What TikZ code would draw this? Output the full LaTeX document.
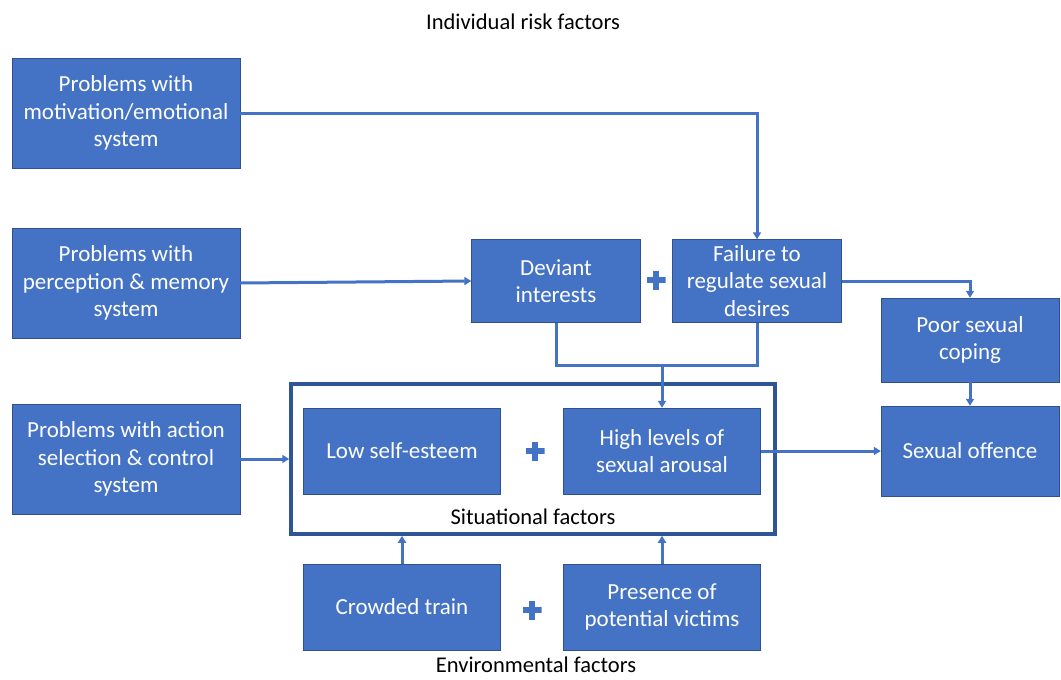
\documentclass[tikz,border=0pt]{standalone}
\usepackage{fontspec}
\setmainfont{Carlito}
\usetikzlibrary{arrows.meta}
\definecolor{boxblue}{HTML}{4472C4}
\definecolor{boxline}{HTML}{2F528F}
\definecolor{framec}{HTML}{2F5597}
\begin{document}
\begin{tikzpicture}[x=1pt,y=-1pt,
	box/.style={ draw=boxline, thin, fill=boxblue, text=white, align=center, inner sep=0pt, font=\fontsize{23}{27.5}\selectfont },
	bigbox/.style={ box, minimum width=228pt, minimum height=110pt },
	midbox/.style={ box, minimum width=169pt, minimum height=83pt },
	endbox/.style={ box, minimum width=178pt, minimum height=86pt },
	sitbox/.style={ box, minimum width=197pt, minimum height=86pt },
	caption/.style={ text=black, font=\fontsize{22.5}{27}\selectfont },
	link/.style={ boxblue, line width=3pt, -{Triangle[length=7pt,width=8pt]} },
	plus/.style={ minimum size=19pt, inner sep=0pt, path picture={
		\fill[boxblue] ([xshift=-3.2pt]path picture bounding box.north) rectangle ([xshift=3.2pt]path picture bounding box.south);
		\fill[boxblue] ([yshift=3.2pt]path picture bounding box.west) rectangle ([yshift=-3.2pt]path picture bounding box.east);
	} }
]
\useasboundingbox (0,0) rectangle (1061,680);

\node at (523,22) (title) [caption] {Individual risk factors};
\node at (126,113) (mot) [bigbox] {Problems with\\motivation/emotional\\system};
\node at (126,283) (per) [bigbox] {Problems with\\perception \& memory\\system};
\node at (126,459) (act) [bigbox] {Problems with action\\selection \& control\\system};

\node at (556,281) (dev) [midbox] {Deviant\\interests};
\node at (656,280) (plusa) [plus] {};
\node at (757,281) (fail) [midbox] {Failure to\\regulate sexual\\desires};

\node at (970,340) (poor) [endbox, minimum height=84pt] {Poor sexual\\coping};
\node at (970,451) (off) [endbox, minimum height=90pt] {Sexual offence};

\node at (533,459) (sit) [draw=framec, line width=3.5pt, minimum width=484pt, minimum height=150pt] {};
\node at (402,451) (low) [sitbox] {Low self-esteem};
\node at (535,451) (plusb) [plus] {};
\node at (662,451) (high) [sitbox] {High levels of\\sexual arousal};
\node at (533,517) (sitlabel) [caption] {Situational factors};

\node at (402,607) (crowd) [sitbox] {Crowded train};
\node at (532,610) (plusc) [plus] {};
\node at (662,607) (pres) [sitbox] {Presence of\\potential victims};
\node at (536,665) (envlabel) [caption] {Environmental factors};

\coordinate (join) at (662,365);
\draw[link] (mot.east) -| (fail.north);
\draw[link] (per.east) -- (dev.west);
\draw[boxblue, line width=3pt] (dev.south) |- (join) -| (fail.south);
\draw[link] (join) -- (high.north);
\draw[link] (fail.east) -| (poor.north);
\draw[link] (poor.south) -- (off.north);
\draw[link] (high.east) -- (off.west);
\draw[link] (act.east) -- (sit.west);
\draw[link] (crowd.north) -- (crowd.north |- sit.south);
\draw[link] (pres.north) -- (pres.north |- sit.south);

\end{tikzpicture}
\end{document}
